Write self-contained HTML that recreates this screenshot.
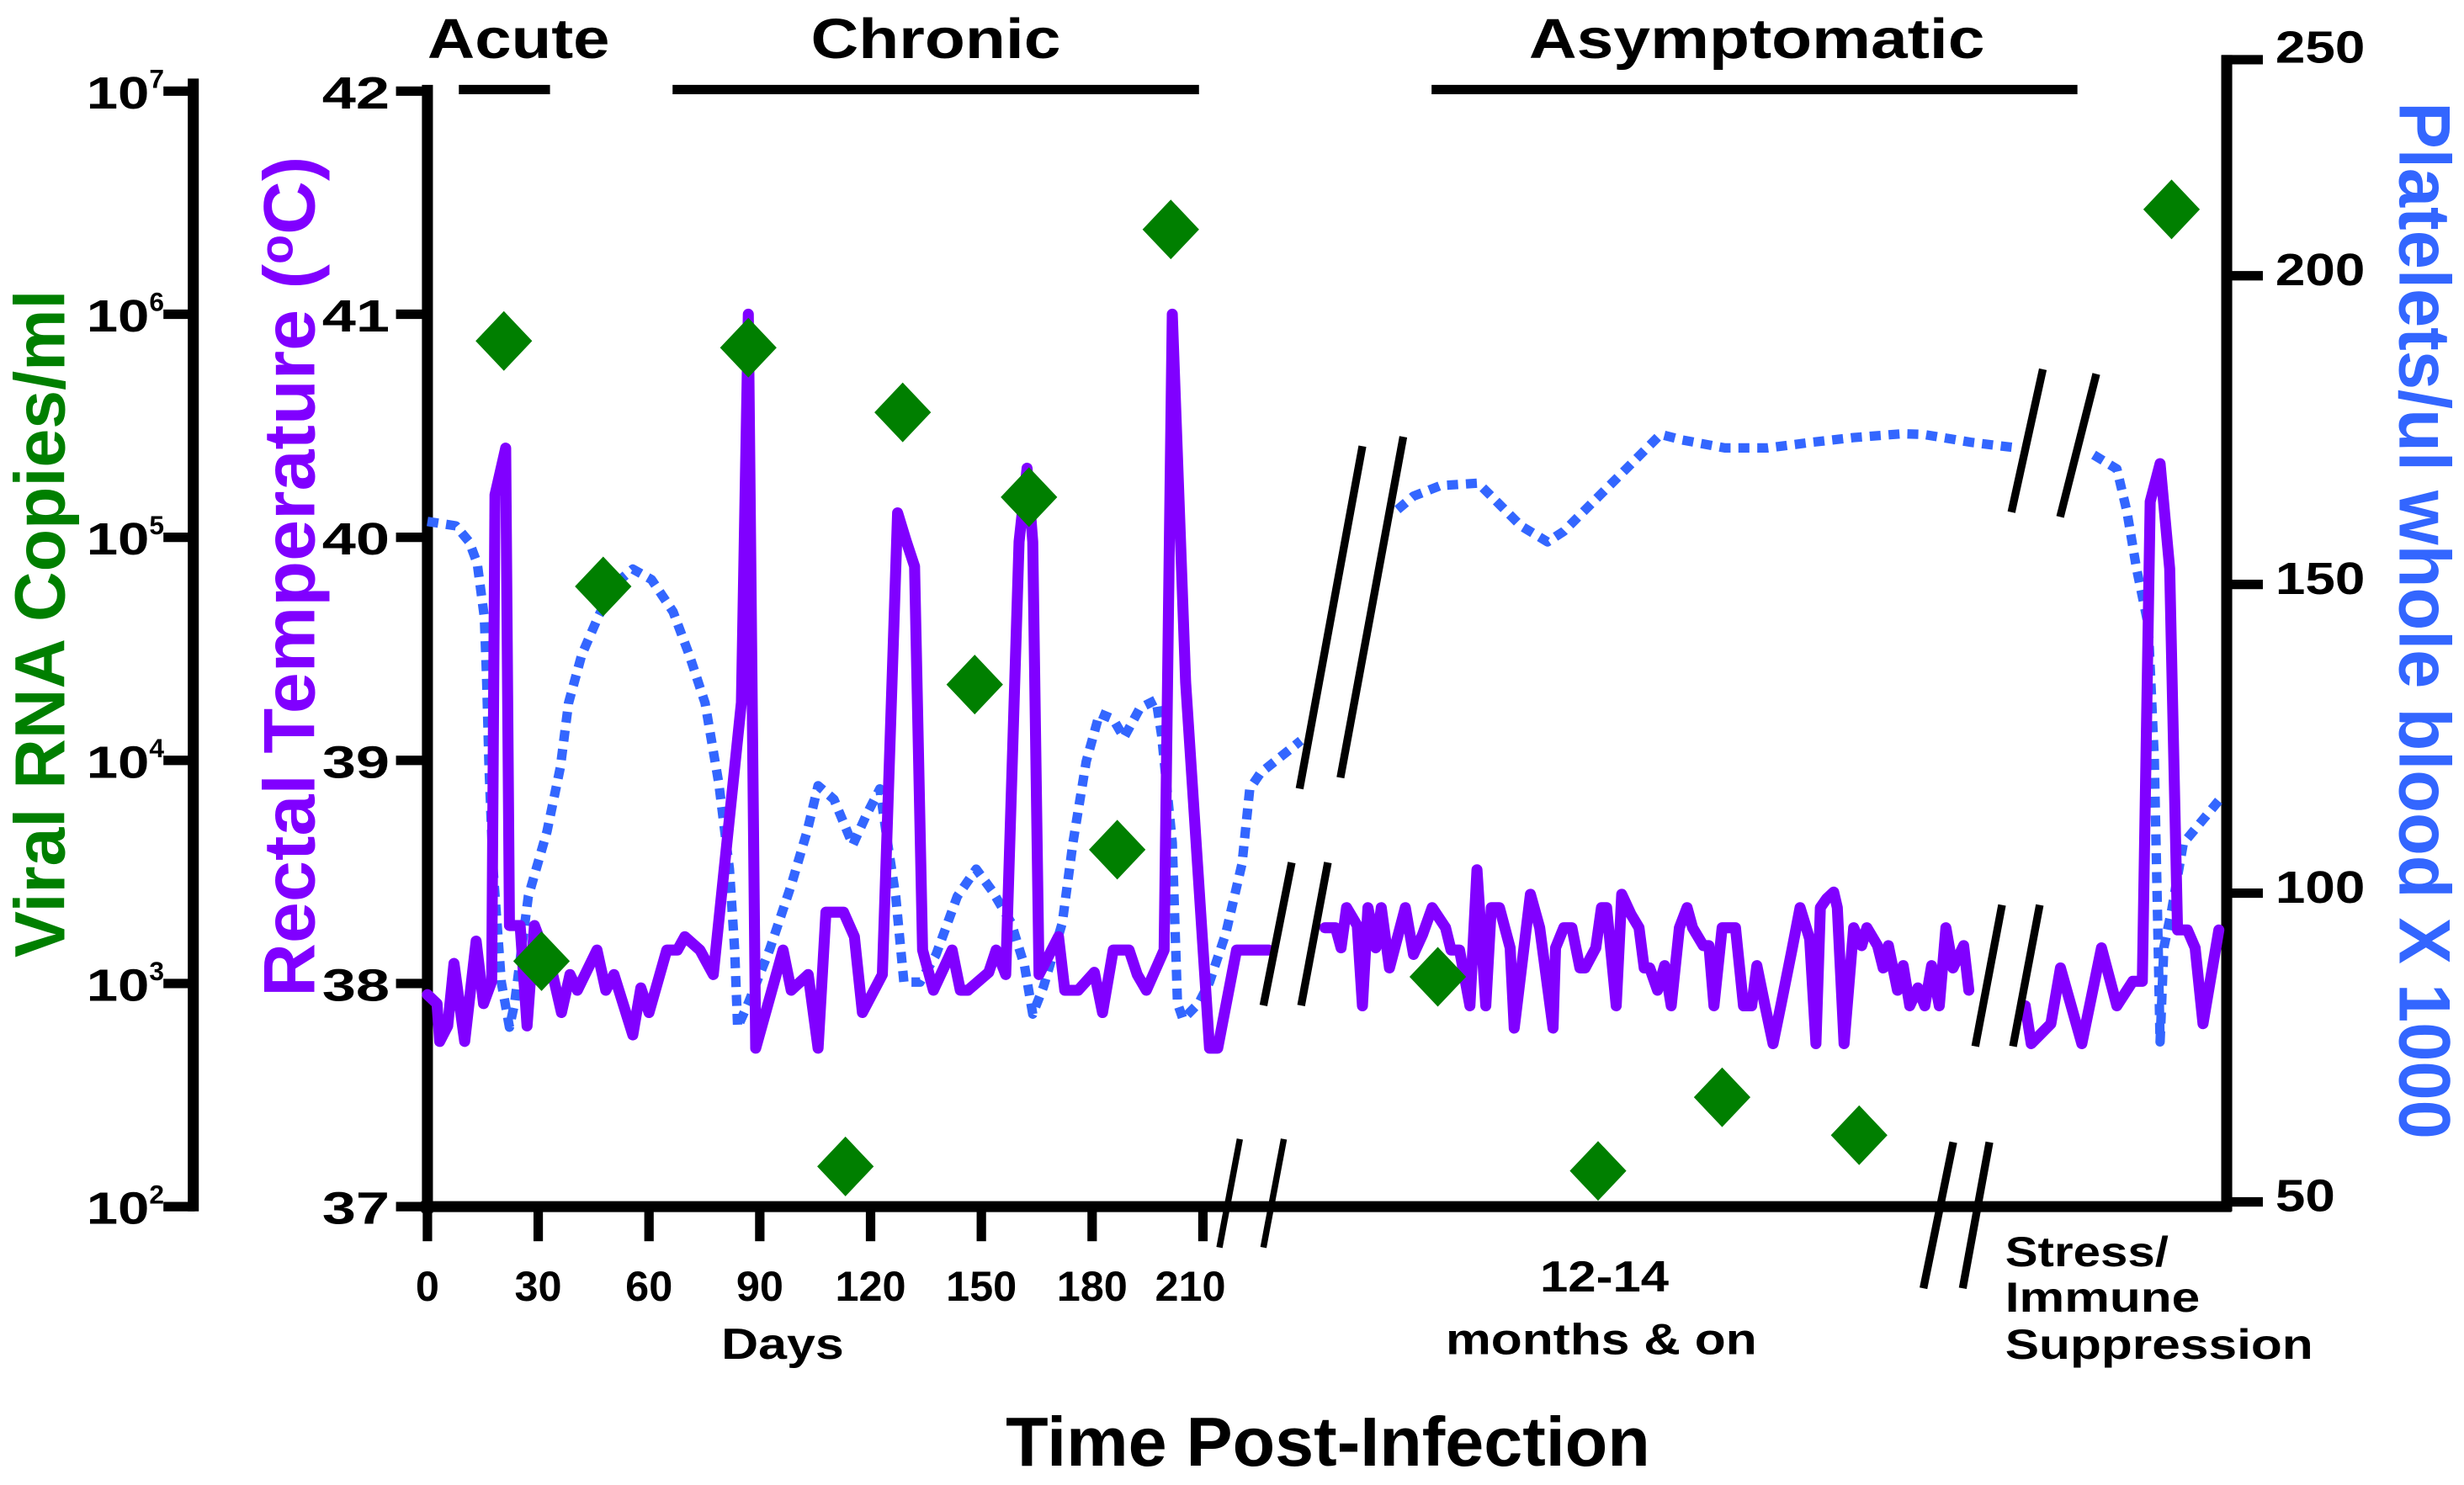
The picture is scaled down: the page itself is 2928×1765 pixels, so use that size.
<!DOCTYPE html>
<html><head><meta charset="utf-8"><style>
html,body{margin:0;padding:0;background:#fff;}
svg{display:block;}
text{font-family:"Liberation Sans",sans-serif;font-weight:bold;}
</style></head><body>
<svg id="chart" xmlns="http://www.w3.org/2000/svg" width="2928" height="1765" viewBox="0 0 1568 945.2" preserveAspectRatio="none">
<rect x="0" y="0" width="1568" height="945.2" fill="#fff"/>
<g>
<text x="272" y="37" font-size="36" textLength="116" lengthAdjust="spacingAndGlyphs">Acute</text>
<line x1="292" y1="57" x2="350" y2="57" stroke="#000" stroke-width="6"/>
<text x="516" y="37" font-size="36" textLength="159" lengthAdjust="spacingAndGlyphs">Chronic</text>
<line x1="428" y1="57" x2="763" y2="57" stroke="#000" stroke-width="6"/>
<text x="973" y="37" font-size="36" textLength="290" lengthAdjust="spacingAndGlyphs">Asymptomatic</text>
<line x1="911" y1="57" x2="1322" y2="57" stroke="#000" stroke-width="6"/>
</g>
<text transform="translate(41,397) rotate(-90)" text-anchor="middle" font-size="45" fill="#007f00" textLength="425" lengthAdjust="spacingAndGlyphs">Viral RNA Copies/ml</text>
<text transform="translate(200,367) rotate(-90)" text-anchor="middle" font-size="46" fill="#8000ff" textLength="535" lengthAdjust="spacingAndGlyphs">Rectal Temperature (<tspan font-size="30" dy="-14">o</tspan><tspan dy="14">C)</tspan></text>
<text transform="translate(1527,395) rotate(90)" text-anchor="middle" font-size="46" fill="#3366ff" textLength="660" lengthAdjust="spacingAndGlyphs">Platelets/ul whole blood X 1000</text>
<text x="845" y="933" text-anchor="middle" font-size="44" textLength="410" lengthAdjust="spacingAndGlyphs">Time Post-Infection</text>
<text x="498" y="865" text-anchor="middle" font-size="28" textLength="78" lengthAdjust="spacingAndGlyphs">Days</text>
<text x="1021" y="822" text-anchor="middle" font-size="28" textLength="82" lengthAdjust="spacingAndGlyphs">12-14</text>
<text x="1019" y="862" text-anchor="middle" font-size="28" textLength="198" lengthAdjust="spacingAndGlyphs">months &amp; on</text>
<text x="1276" y="806" font-size="27" textLength="104" lengthAdjust="spacingAndGlyphs">Stress/</text>
<text x="1276" y="835" font-size="27" textLength="124" lengthAdjust="spacingAndGlyphs">Immune</text>
<text x="1276" y="865" font-size="27" textLength="196" lengthAdjust="spacingAndGlyphs">Suppression</text>
<g id="axes"></g>
<g id="series"></g>
<g id="breaks" stroke="#000" stroke-width="5">
<line x1="827" y1="502" x2="867" y2="284"/><line x1="853" y1="495" x2="893" y2="278"/>
<line x1="804" y1="640" x2="822" y2="549"/><line x1="828" y1="640" x2="845" y2="549"/>
<line x1="1257" y1="666" x2="1274" y2="576"/><line x1="1281" y1="666" x2="1298" y2="576"/>
<line x1="1280" y1="326" x2="1300" y2="235"/><line x1="1311" y1="329" x2="1334" y2="238"/>
<line x1="776" y1="794" x2="789" y2="725" stroke-width="4"/><line x1="804" y1="794" x2="817" y2="725" stroke-width="4"/>
<line x1="1224" y1="820" x2="1243" y2="727"/><line x1="1249" y1="820" x2="1266" y2="727"/>
</g>
</svg>
<script>
const viralTicks=[2,3,4,5,6,7];
const tempTicks=[37,38,39,40,41,42];
const plateletTicks=[50,100,150,200];
const dayTicks=[0,30,60,90,120,150,180,210];

const tempDaysA=[0,2.6,3.3,5.5,7.2,10.1,13.2,15.2,17.4,18.3,21.2,22.2,25.1,27.0,29.0,33.8,36.3,38.6,40.6,45.9,48.3,50.5,55.6,57.8,60.0,64.8,67.7,69.7,73.8,77.4,85.0,86.9,88.9,96.3,98.5,103.1,105.8,107.9,112.7,115.6,117.8,123.2,127.3,129.7,131.9,134.1,137.0,142.1,144.3,146.4,152.0,154.0,156.6,160.2,162.4,163.9,165.6,170.9,172.6,176.2,180.6,182.8,185.7,190.0,192.2,194.7,199.5,201.7,205.3,211.8,214.0,219.1,227.8];
const tempValsA=[37.95,37.91,37.74,37.81,38.09,37.74,38.19,37.91,38.01,40.19,40.40,38.26,38.26,37.81,38.26,38.05,37.87,38.04,37.97,38.15,37.97,38.04,37.77,37.98,37.87,38.15,38.15,38.21,38.15,38.04,39.26,41.0,37.71,38.15,37.97,38.04,37.71,38.32,38.32,38.21,37.87,38.04,40.11,39.98,39.87,38.15,37.97,38.15,37.97,37.97,38.05,38.15,38.04,39.98,40.31,39.98,38.04,38.21,37.97,37.97,38.05,37.87,38.15,38.15,38.04,37.97,38.15,41.0,39.35,37.71,37.71,38.15,38.15];
const tempDaysB=[243.0,245.9,247.4,248.9,251.8,253.2,254.7,256.8,258.3,260.5,264.8,267.0,269.5,272.1,275.7,277.2,279.5,282.3,284.2,286.6,288.1,290.3,293.2,294.3,298.7,301.2,304.8,305.5,307.7,309.9,312.1,313.5,316.4,317.9,319.3,321.9,323.4,325.9,328.1,329.5,331.0,333.1,335.0,336.8,339.0,341.1,342.6,345.5,347.0,348.4,350.6,354.2,356.4,358.6,360.0,362.2,364.4,366.6,369.5,371.7,374.3,376.0,377.2,378.9,380.8,381.8,383.6,386.2,388.4,389.8,392.7,394.2,395.6,398.1,399.6,401.4,403.6,405.5,407.3,409.4,411.2,413.1,416.0,417.4];
const tempValsB=[38.25,38.25,38.16,38.34,38.26,37.90,38.34,38.16,38.34,38.07,38.34,38.13,38.22,38.34,38.25,38.15,38.15,37.90,38.51,37.90,38.34,38.34,38.16,37.80,38.40,38.25,37.80,38.16,38.25,38.25,38.07,38.07,38.16,38.34,38.34,37.90,38.40,38.31,38.25,38.07,38.07,37.97,38.08,37.90,38.25,38.34,38.25,38.17,38.17,37.90,38.25,38.25,37.90,37.90,38.08,37.90,37.73,37.91,38.15,38.34,38.20,37.73,38.34,38.38,38.41,38.34,37.73,38.25,38.17,38.25,38.17,38.07,38.17,37.97,38.08,37.90,37.98,37.90,38.08,37.90,38.25,38.07,38.17,37.97];
const tempDaysC=[432.7,434.3,439.6,442.2,448.0,453.3,457.5,461.8,464.4,466.5,469.2,471.8,473.9,476.6,478.7,480.8,485.1];
const tempValsC=[37.90,37.73,37.82,38.07,37.73,38.16,37.90,38.01,38.01,40.16,40.33,39.86,38.24,38.24,38.16,37.82,38.24];

const plateletDaysA=[0,7.7,11.3,13.5,15.4,16.0,16.7,17.8,20.0,22.2,23.6,27.3,32.4,36.0,38.2,41.8,46.2,50.5,55.6,60.7,66.5,70.9,75.2,78.9,81.8,83.2,84.0,86.9,92.7,98.5,102.8,105.8,110.1,115.2,118.8,122.5,124.6,126.8,129.0,133.4,137.7,143.5,148.6,152.9,158.1,161.7,163.9,166.8,171.9,174.8,178.4,182.0,185.7,188.6,193.0,197.3,198.8,201.7,203.1,204.6,208.9,211.8,216.2,220.6,222.7,225.6,236.5];
const plateletValsA=[160.2,159.5,156.9,153.4,144.7,135.2,120.4,103.9,85.6,78.3,82.2,99.5,110.0,120.4,130.8,138.6,144.7,149.9,152.5,150.8,145.6,138.6,130.8,117.8,103.9,90.9,78.3,82.2,90.9,101.3,110.0,117.4,115.2,107.8,112.6,116.9,108.2,99.5,85.6,85.6,90.0,99.5,103.9,100.4,95.2,88.2,80.4,84.8,95.2,108.2,121.3,129.1,128.2,125.2,130.0,131.3,125.6,108.2,82.2,79.6,82.2,85.6,93.5,104.8,116.9,119.5,124.7];
const plateletDaysB=[262.7,267.0,274.3,284.5,287.4,296.1,303.3,307.7,316.4,325.1,333.9,339.7,351.3,362.9,374.6,386.2,399.3,405.1,418.2,430.5];
const plateletValsB=[162.1,164.3,166.0,166.4,164.7,159.5,156.9,158.6,163.8,169.0,174.3,173.4,172.1,172.1,173.0,173.8,174.4,174.3,173.0,172.1];
const plateletDaysC=[451.2,457.5,460.2,462.8,466.0,467.6,468.7,469.2,470.2,472.4,475.5,480.8,485.1];
const plateletValsC=[171.0,168.7,161.8,152.6,143.4,121.9,91.2,75.9,91.2,97.4,108.1,111.9,115.0];

const viralDays=[20.7,30.9,47.6,86.9,113.2,128.7,148.2,162.9,186.8,201.3,273.6,317.0,350.6,387.7,472.3];
const viralLogs=[5.88,3.10,4.78,5.85,2.18,5.56,4.34,5.18,3.60,6.38,3.03,2.16,2.49,2.32,6.47];

const NS="http://www.w3.org/2000/svg";
function xDay(d){return 272+d*2.35;}
function yTemp(t){return 768-(t-37)*142;}
function yLog(l){return 768-(l-2)*142;}
function yPlt(p){return 765-(p-50)*3.93;}
function mk(tag,attrs,parent){const e=document.createElementNS(NS,tag);for(const k in attrs)e.setAttribute(k,attrs[k]);parent.appendChild(e);return e;}
const axes=document.getElementById('axes');
const series=document.getElementById('series');

let e;
e=mk('line',{x1:123,y1:50,x2:123,y2:771,stroke:'#000','stroke-width':7},axes);


viralTicks.forEach(v=>{
  const y=yLog(v);
  const t=mk('line',{x1:104,y1:y,x2:124,y2:y,stroke:'#000','stroke-width':6},axes);
  
  
  const tx=mk('text',{x:55,y:y+11,'font-size':29,textLength:40,lengthAdjust:'spacingAndGlyphs'},axes);
  tx.textContent='10';
  
  
  const sp=mk('text',{x:95,y:y-2,'font-size':17},axes);
  sp.textContent=String(v);
  
  
});
e=mk('line',{x1:272,y1:54,x2:272,y2:772,stroke:'#000','stroke-width':7},axes);


tempTicks.forEach(v=>{
  const y=yTemp(v);
  const t=mk('line',{x1:252,y1:y,x2:273,y2:y,stroke:'#000','stroke-width':6},axes);
  
  
  const tx=mk('text',{x:248,y:y+11,'font-size':29,'text-anchor':'end',textLength:43,lengthAdjust:'spacingAndGlyphs'},axes);
  tx.textContent=String(v);
  
  
});
e=mk('line',{x1:1417,y1:35,x2:1417,y2:771,stroke:'#000','stroke-width':7},axes);


const pltTop=mk('line',{x1:1414,y1:38,x2:1440,y2:38,stroke:'#000','stroke-width':6},axes);


const pltTopL=mk('text',{x:1448,y:40,'font-size':29,textLength:57,lengthAdjust:'spacingAndGlyphs'},axes);
pltTopL.textContent='250';


plateletTicks.forEach(v=>{
  const y=yPlt(v);
  const t=mk('line',{x1:1414,y1:y,x2:1440,y2:y,stroke:'#000','stroke-width':6},axes);
  
  
  const tx=mk('text',{x:1448,y:y+6,'font-size':29,textLength:v<100?38:57,lengthAdjust:'spacingAndGlyphs'},axes);
  tx.textContent=String(v);
  
  
});
e=mk('line',{x1:268,y1:768,x2:1420,y2:768,stroke:'#000','stroke-width':7},axes);


dayTicks.forEach(v=>{
  const x=xDay(v);
  const t=mk('line',{x1:x,y1:768,x2:x,y2:790,stroke:'#000','stroke-width':6},axes);
  
  
  const tx=mk('text',{x:x+(v>=210?-8:0),y:828,'font-size':27,'text-anchor':'middle'},axes);
  tx.textContent=String(v);
  
  
});

function pathD(days,vals,yf){return days.map((d,i)=>(i?'L':'M')+xDay(d).toFixed(1)+' '+yf(vals[i]).toFixed(1)).join(' ');}
[[plateletDaysA,plateletValsA],[plateletDaysB,plateletValsB],[plateletDaysC,plateletValsC]].forEach(s=>{
  const p=mk('path',{d:pathD(s[0],s[1],yPlt),fill:'none',stroke:'#3366ff','stroke-width':6,'stroke-dasharray':'7 5','stroke-linejoin':'round'},series);
  
  
});
[[tempDaysA,tempValsA],[tempDaysB,tempValsB],[tempDaysC,tempValsC]].forEach(s=>{
  const p=mk('path',{d:pathD(s[0],s[1],yTemp),fill:'none',stroke:'#8000ff','stroke-width':7,'stroke-linejoin':'round','stroke-linecap':'round'},series);
  
  
});
viralDays.forEach((d,i)=>{
  const x=xDay(d),y=yLog(viralLogs[i]);
  const p=mk('path',{d:`M${x-18} ${y} L${x} ${y-19} L${x+18} ${y} L${x} ${y+19} Z`,fill:'#007f00'},series);
  
  
});
</script>
</body></html>
